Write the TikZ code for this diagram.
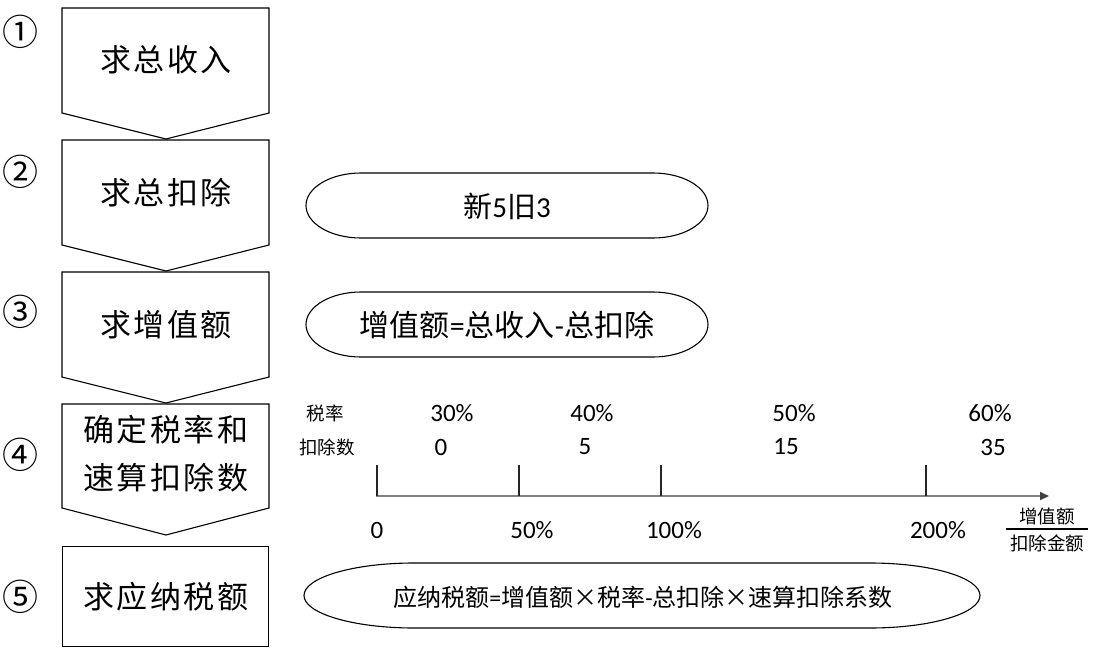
\documentclass[tikz,border=0pt]{standalone}
\usepackage{fontspec}
\setmainfont{Carlito}
\newfontfamily\cjk{Noto Sans CJK SC}
\newfontfamily\cjkbox[LetterSpace=8]{Noto Sans CJK SC}
\newfontfamily\cjkthin{Noto Sans CJK SC Light}
\usetikzlibrary{arrows.meta}
\newcommand{\fsz}[1]{\fontsize{#1pt}{#1pt}\selectfont}
\tikzset{
  shapeline/.style={draw=black, line width=1.1pt, line join=miter},
  steptext/.style={inner sep=0pt, font=\cjkbox\fontsize{31pt}{48pt}\selectfont, align=center},
  numtext/.style={inner sep=0pt, font=\cjk\fsz{36}},
  axislabel/.style={inner sep=0pt, font=\fsz{25}},
  cjklabel/.style={inner sep=0pt, font=\cjk\fsz{18.5}},
  tickline/.style={draw=black!85, line width=1.3pt},
}
\begin{document}
\begin{tikzpicture}[x=1pt, y=-1pt]
\useasboundingbox (0,0) rectangle (1101,651);
% chevrons
\draw[shapeline] (62,8) -- (269,8) -- (269,113) -- (166,139) -- (62,113) -- cycle;
\draw[shapeline] (62,140) -- (269,140) -- (269,245) -- (166,271) -- (62,245) -- cycle;
\draw[shapeline] (62,272) -- (269,272) -- (269,377) -- (166,403) -- (62,377) -- cycle;
\draw[shapeline] (62,404) -- (269,404) -- (269,508) -- (166,535) -- (62,508) -- cycle;
\draw[shapeline] (62.5,546.5) rectangle (268.5,646.5);
\node[steptext] (s1) at (166,60) {求总收入};
\node[steptext] (s2) at (166,193) {求总扣除};
\node[steptext] (s3) at (166,325) {求增值额};
\node[steptext] (s4) at (166,454) {确定税率和\\速算扣除数};
\node[steptext] (s5) at (166,597) {求应纳税额};
% circled numbers
\node[numtext] (n1) at (20,32) {①};
\node[numtext] (n2) at (20,172) {②};
\node[numtext] (n3) at (20,312) {③};
\node[numtext] (n4) at (20,455) {④};
\node[numtext] (n5) at (20,597) {⑤};
% stadium shapes
\draw[shapeline] (361,173) -- (653,173) arc[start angle=-90, end angle=90, x radius=55, y radius=32.5] -- (361,238) arc[start angle=90, end angle=270, x radius=55, y radius=32.5] -- cycle;
\node[inner sep=0pt, font=\fsz{29}] (e1) at (507,206) {{\cjk 新}5{\cjk 旧}3};
\draw[shapeline] (361,292) -- (653,292) arc[start angle=-90, end angle=90, x radius=55, y radius=32.5] -- (361,357) arc[start angle=90, end angle=270, x radius=55, y radius=32.5] -- cycle;
\node[inner sep=0pt, font=\fsz{30}] (e2) at (507,325) {{\cjk 增值额}={\cjk 总收入}-{\cjk 总扣除}};
\draw[shapeline] (414,563) -- (870,563) arc[start angle=-90, end angle=90, x radius=110, y radius=32.5] -- (414,628) arc[start angle=90, end angle=270, x radius=110, y radius=32.5] -- cycle;
\node[inner sep=0pt, font=\fsz{24}] (e3) at (643,597) {{\cjk 应纳税额}={\cjk 增值额\makebox[1em]{×}税率}-{\cjk 总扣除\makebox[1em]{×}速算扣除系数}};
% axis
\coordinate (a0) at (376,496);
\coordinate (aend) at (1049,496);
\draw[draw=black!50, line width=2pt, -{Triangle[length=9pt, width=8pt, fill=black!75, color=black!75]}] (a0) -- (aend);
\coordinate (t0) at (377,465);
\coordinate (t1) at (519,465);
\coordinate (t2) at (661,465);
\coordinate (t3) at (926,465);
\coordinate (b0) at (377,496);
\coordinate (b1) at (519,496);
\coordinate (b2) at (661,496);
\coordinate (b3) at (926,496);
\draw[tickline] (t0) -- (b0);
\draw[tickline] (t1) -- (b1);
\draw[tickline] (t2) -- (b2);
\draw[tickline] (t3) -- (b3);
% labels above axis
\node[cjklabel] (lr) at (325,413) {税率};
\node[cjklabel] (ld) at (327,447) {扣除数};
\node[axislabel] (r1) at (452,413) {30\%};
\node[axislabel] (r2) at (592,413) {40\%};
\node[axislabel] (r3) at (794,413) {50\%};
\node[axislabel] (r4) at (990,413) {60\%};
\node[axislabel] (d1) at (441,447) {0};
\node[axislabel] (d2) at (585,447) {5};
\node[axislabel] (d3) at (786,447) {15};
\node[axislabel] (d4) at (993,447) {35};
% labels below axis
\node[axislabel] (x0) at (377,530) {0};
\node[axislabel] (x1) at (532,530) {50\%};
\node[axislabel] (x2) at (674,530) {100\%};
\node[axislabel] (x3) at (938,530) {200\%};
% fraction
\node[cjklabel] (fn) at (1047,516) {增值额};
\node[cjklabel] (fd) at (1047,543) {扣除金额};
\coordinate (fl) at (1006,529);
\coordinate (fr) at (1088,529);
\draw[draw=black, line width=1.2pt] (fl) -- (fr);
\end{tikzpicture}
\end{document}
